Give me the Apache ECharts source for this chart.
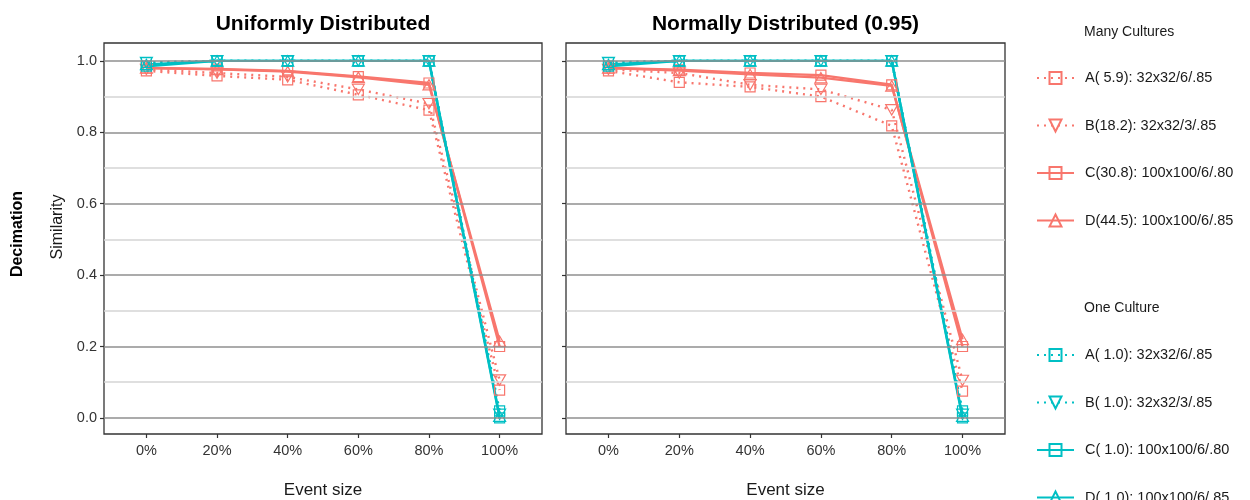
<!DOCTYPE html>
<html>
<head>
<meta charset="utf-8">
<script src="https://cdn.jsdelivr.net/npm/echarts@6/dist/echarts.min.js"></script>
<style>
html,body{margin:0;padding:0;background:#fff;}
#chart{width:1250px;height:500px;}
</style>
</head>
<body>
<div id="chart"></div>
<script>
// ---- data ----
const eventSizes = ['0%', '20%', '40%', '60%', '80%', '100%'];
const panelTitles = ['Uniformly Distributed', 'Normally Distributed (0.95)'];
const manyNames = ['A( 5.9): 32x32/6/.85', 'B(18.2): 32x32/3/.85', 'C(30.8): 100x100/6/.80', 'D(44.5): 100x100/6/.85'];
const oneNames = ['A( 1.0): 32x32/6/.85', 'B( 1.0): 32x32/3/.85', 'C( 1.0): 100x100/6/.80', 'D( 1.0): 100x100/6/.85'];
const yTicks = [0, 0.2, 0.4, 0.6, 0.8, 1.0];
const yMinorBreaks = [0.1, 0.3, 0.5, 0.7, 0.9];

// Uniformly Distributed panel
const uniManyA = [0.972, 0.958, 0.947, 0.905, 0.862, 0.078];
const uniManyB = [0.976, 0.966, 0.955, 0.920, 0.880, 0.106];
const uniManyC = [0.980, 0.977, 0.972, 0.956, 0.938, 0.200];
const uniManyD = [0.980, 0.976, 0.970, 0.954, 0.933, 0.215];
const uniOneA = [0.995, 1.0, 1.0, 1.0, 1.0, 0.020];
const uniOneB = [0.995, 1.0, 1.0, 1.0, 1.0, 0.010];
const uniOneC = [0.985, 1.0, 1.0, 1.0, 1.0, 0.000];
const uniOneD = [0.990, 1.0, 1.0, 1.0, 1.0, 0.005];

// Normally Distributed (0.95) panel
const norManyA = [0.972, 0.940, 0.927, 0.900, 0.818, 0.075];
const norManyB = [0.976, 0.966, 0.933, 0.920, 0.863, 0.105];
const norManyC = [0.980, 0.975, 0.966, 0.960, 0.933, 0.200];
const norManyD = [0.980, 0.973, 0.962, 0.953, 0.930, 0.220];
const norOneA = [0.995, 1.0, 1.0, 1.0, 1.0, 0.020];
const norOneB = [0.995, 1.0, 1.0, 1.0, 1.0, 0.010];
const norOneC = [0.985, 1.0, 1.0, 1.0, 1.0, 0.000];
const norOneD = [0.990, 1.0, 1.0, 1.0, 1.0, 0.005];

// ---- styling ----
const RED = '#F8766D';
const CYAN = '#00BFC4';
const FONT = 'Liberation Sans, Arial, sans-serif';
const SQ = 'path://M0,0 L10,0 L10,10 L0,10 Z';
const TRI_DOWN = 'path://M0,0 L10,0 L5,8.66 Z';
const TRI_UP = 'path://M5,0 L10,8.66 L0,8.66 Z';
const shapes = [SQ, TRI_DOWN, SQ, TRI_UP];
const sizes = [10, 12, 10, 12];
const dotted = [true, true, false, false];

const panels = [
  { many: [uniManyA, uniManyB, uniManyC, uniManyD], one: [uniOneA, uniOneB, uniOneC, uniOneD] },
  { many: [norManyA, norManyB, norManyC, norManyD], one: [norOneA, norOneB, norOneC, norOneD] }
];

function mkSeries(gi, vals, name, color, k) {
  return {
    type: 'line', name: name, xAxisIndex: gi, yAxisIndex: gi,
    data: vals.map((v, i) => [i, v]),
    symbol: shapes[k], symbolSize: sizes[k], symbolKeepAspect: true,
    showSymbol: true,
    itemStyle: { color: 'rgba(0,0,0,0)', borderColor: color, borderWidth: 1.2 },
    lineStyle: dotted[k]
      ? { color: color, width: 2.4, type: [2, 5], cap: 'butt' }
      : { color: color, width: 2.4, type: 'solid' },
    emphasis: { disabled: true },
    z: 3, animation: false, clip: false
  };
}

const series = [];
[0, 1].forEach(gi => {
  // gridlines
  series.push({
    type: 'line', xAxisIndex: gi, yAxisIndex: gi, data: [], silent: true, z: 1,
    markLine: {
      silent: true, symbol: 'none', animation: false, label: { show: false },
      data: yMinorBreaks.map(v => ({ yAxis: v, lineStyle: { color: '#d4d4d4', width: 1.6, type: 'solid' } }))
        .concat(yTicks.map(v => ({ yAxis: v, lineStyle: { color: '#8f8f8f', width: 1.6, type: 'solid' } })))
    }
  });
  panels[gi].many.forEach((vals, k) => series.push(mkSeries(gi, vals, manyNames[k], RED, k)));
  panels[gi].one.forEach((vals, k) => series.push(mkSeries(gi, vals, oneNames[k], CYAN, k)));
});

const gridLefts = [104, 566];
const gridWidths = [438, 439];
const grids = gridLefts.map((l, i) => ({
  left: l, top: 43, width: gridWidths[i], height: 391,
  show: true, borderColor: '#333', borderWidth: 1.3, backgroundColor: '#fff',
  containLabel: false, outerBoundsMode: 'none'
}));

const xAxes = [0, 1].map(gi => ({
  type: 'value', gridIndex: gi, min: -0.6, max: 5.6,
  axisLine: { show: false, onZero: false },
  splitLine: { show: false },
  axisTick: { show: true, customValues: eventSizes.map((s, i) => i), length: 4, lineStyle: { color: '#333', width: 1.2 } },
  axisLabel: { show: true, customValues: eventSizes.map((s, i) => i), formatter: v => eventSizes[Math.round(v)], color: '#333', fontSize: 14.5, fontFamily: FONT, margin: 9 },
  name: 'Event size', nameLocation: 'middle', nameGap: 48,
  nameTextStyle: { fontSize: 17, color: '#1a1a1a', fontFamily: FONT }
}));

const yAxes = [0, 1].map(gi => ({
  type: 'value', gridIndex: gi, min: -0.045, max: 1.05,
  axisLine: { show: false, onZero: false },
  splitLine: { show: false },
  axisTick: { show: true, customValues: yTicks, length: 4, lineStyle: { color: '#333', width: 1.2 } },
  axisLabel: { show: gi === 0, customValues: yTicks, formatter: v => v.toFixed(1), color: '#333', fontSize: 14.5, fontFamily: FONT, margin: 7 }
}));

const legendCommon = {
  orient: 'vertical', left: 1036, itemWidth: 37, itemHeight: 15, itemGap: 31.5, padding: 0,
  height: 220,
  textStyle: { fontSize: 14.5, color: '#1a1a1a', fontFamily: FONT, padding: [0, 0, 0, 6], lineHeight: 16 },
  selectedMode: false
};

const option = {
  backgroundColor: '#fff',
  animation: false,
  grid: grids,
  xAxis: xAxes,
  yAxis: yAxes,
  legend: [
    Object.assign({}, legendCommon, { top: 70, data: manyNames }),
    Object.assign({}, legendCommon, { top: 347, data: oneNames })
  ],
  graphic: [
    { type: 'text', x: 323, y: 24, style: { text: panelTitles[0], font: 'bold 21px ' + FONT, fill: '#000', textAlign: 'center', textVerticalAlign: 'middle' } },
    { type: 'text', x: 785.5, y: 24, style: { text: panelTitles[1], font: 'bold 21px ' + FONT, fill: '#000', textAlign: 'center', textVerticalAlign: 'middle' } },
    { type: 'text', x: 58, y: 227, rotation: Math.PI / 2, style: { text: 'Similarity', font: '16px ' + FONT, fill: '#1a1a1a', textAlign: 'center', textVerticalAlign: 'middle' } },
    { type: 'text', x: 18, y: 234, rotation: Math.PI / 2, style: { text: 'Decimation', font: 'bold 16px ' + FONT, fill: '#000', textAlign: 'center', textVerticalAlign: 'middle' } },
    { type: 'text', x: 1084, y: 32, style: { text: 'Many Cultures', font: '14px ' + FONT, fill: '#1a1a1a', textAlign: 'left', textVerticalAlign: 'middle' } },
    { type: 'text', x: 1084, y: 308, style: { text: 'One Culture', font: '14px ' + FONT, fill: '#1a1a1a', textAlign: 'left', textVerticalAlign: 'middle' } }
  ],
  series: series
};

const chart = echarts.init(document.getElementById('chart'), null, { renderer: 'canvas' });
chart.setOption(option);
</script>
</body>
</html>
